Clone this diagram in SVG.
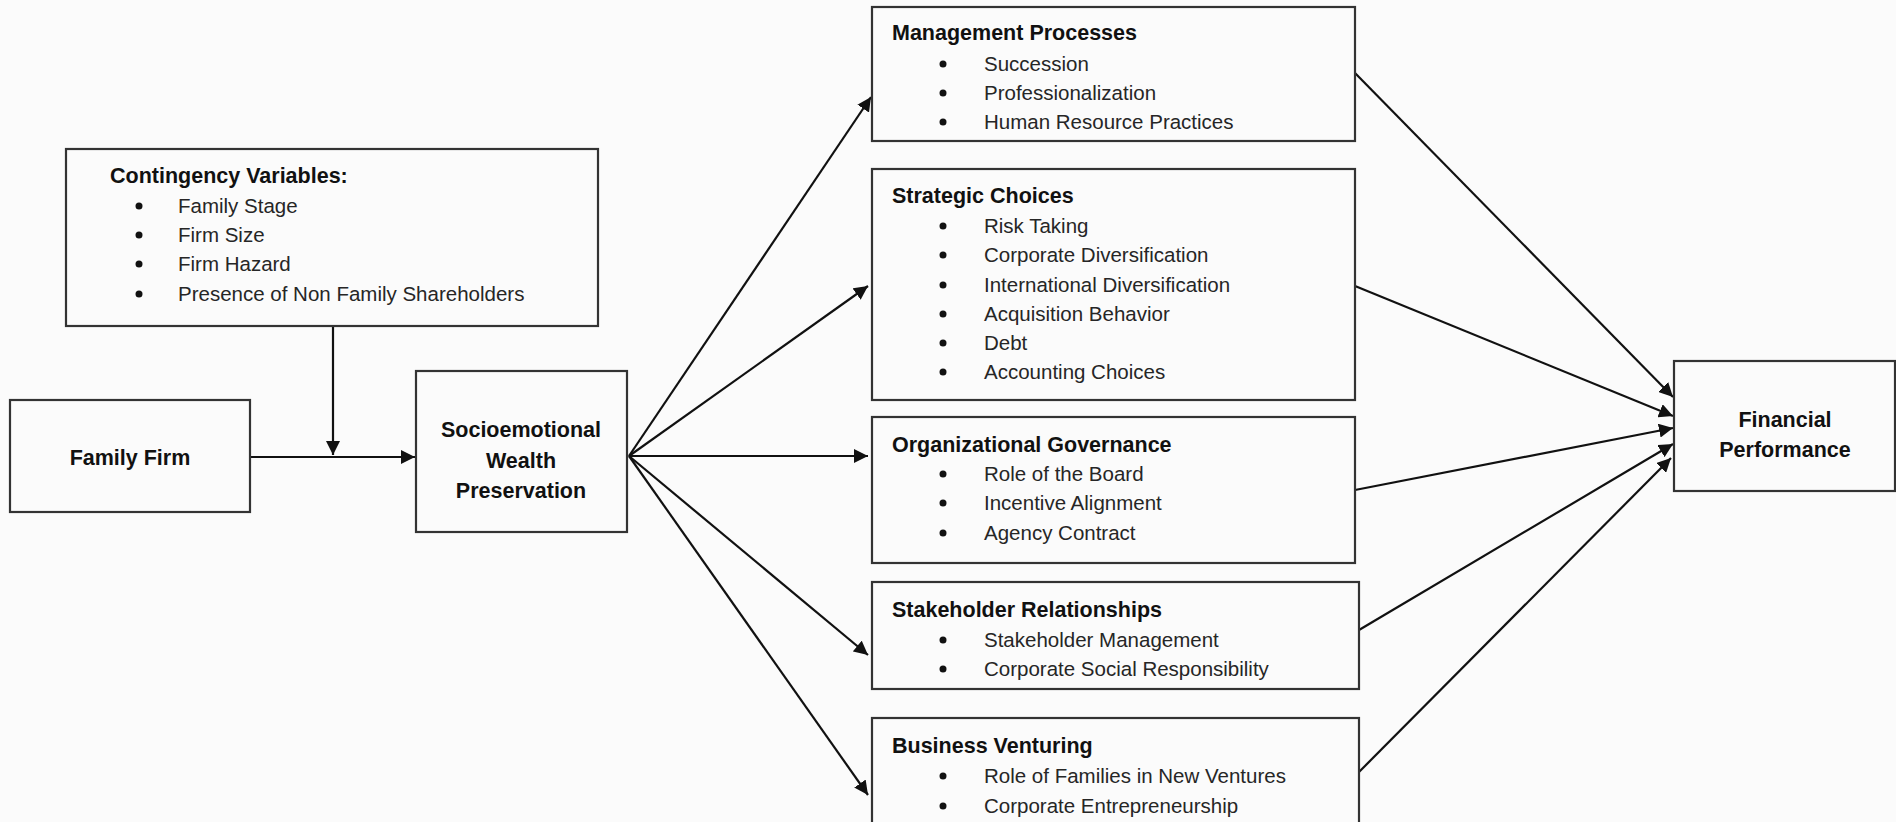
<svg xmlns="http://www.w3.org/2000/svg" width="1896" height="822" viewBox="0 0 1896 822">
<style>
.box{fill:#fbfbfb;stroke:#333;stroke-width:2.2}
.ttl{font-family:"Liberation Sans",Arial,sans-serif;font-size:21.5px;font-weight:bold;fill:#111}
.itm{font-family:"Liberation Sans",Arial,sans-serif;font-size:20.5px;fill:#262626}
.ctr{font-family:"Liberation Sans",Arial,sans-serif;font-size:21.5px;font-weight:bold;fill:#111;text-anchor:middle}
.bul{fill:#111}
.con{stroke:#111;stroke-width:2.2;fill:none;marker-end:url(#ah)}
</style>
<defs>
<marker id="ah" markerUnits="userSpaceOnUse" markerWidth="15" markerHeight="14" refX="14" refY="7" orient="auto">
<path d="M0,0 L14,7 L0,14 z" fill="#111"/>
</marker>
</defs>
<rect x="0" y="0" width="1896" height="822" fill="#fbfbfb"/>

<g id="connectors">
<path class="con" d="M333,326 L333,455"/>
<path class="con" d="M250,457 L415,457"/>
<path class="con" d="M629,456 L871,97"/>
<path class="con" d="M629,456 L868,286"/>
<path class="con" d="M629,456 L868,456"/>
<path class="con" d="M629,456 L868,655"/>
<path class="con" d="M629,456 L868,795"/>
<path class="con" d="M1355,73 L1673,397"/>
<path class="con" d="M1355,286 L1673,416"/>
<path class="con" d="M1355,490 L1673,428"/>
<path class="con" d="M1359,630 L1673,444"/>
<path class="con" d="M1359,772 L1671,458"/>
</g>

<g id="contingency">
<rect class="box" x="66" y="149" width="532" height="177"/>
<text class="ttl" x="110" y="183">Contingency Variables:</text>
<circle class="bul" cx="139" cy="206" r="3.5"/><text class="itm" x="178" y="213">Family Stage</text>
<circle class="bul" cx="139" cy="235" r="3.5"/><text class="itm" x="178" y="242">Firm Size</text>
<circle class="bul" cx="139" cy="264" r="3.5"/><text class="itm" x="178" y="271">Firm Hazard</text>
<circle class="bul" cx="139" cy="294" r="3.5"/><text class="itm" x="178" y="301">Presence of Non Family Shareholders</text>
</g>

<g id="family-firm">
<rect class="box" x="10" y="400" width="240" height="112"/>
<text class="ctr" x="130" y="465">Family Firm</text>
</g>

<g id="sew">
<rect class="box" x="416" y="371" width="211" height="161"/>
<text class="ctr" x="521" y="437">Socioemotional</text>
<text class="ctr" x="521" y="468">Wealth</text>
<text class="ctr" x="521" y="498">Preservation</text>
</g>

<g id="management">
<rect class="box" x="872" y="7" width="483" height="134"/>
<text class="ttl" x="892" y="40">Management Processes</text>
<circle class="bul" cx="943" cy="64" r="3.5"/><text class="itm" x="984" y="71">Succession</text>
<circle class="bul" cx="943" cy="93" r="3.5"/><text class="itm" x="984" y="100">Professionalization</text>
<circle class="bul" cx="943" cy="122" r="3.5"/><text class="itm" x="984" y="129">Human Resource Practices</text>
</g>

<g id="strategic">
<rect class="box" x="872" y="169" width="483" height="231"/>
<text class="ttl" x="892" y="203">Strategic Choices</text>
<circle class="bul" cx="943" cy="226" r="3.5"/><text class="itm" x="984" y="233">Risk Taking</text>
<circle class="bul" cx="943" cy="255" r="3.5"/><text class="itm" x="984" y="262">Corporate Diversification</text>
<circle class="bul" cx="943" cy="285" r="3.5"/><text class="itm" x="984" y="292">International Diversification</text>
<circle class="bul" cx="943" cy="314" r="3.5"/><text class="itm" x="984" y="321">Acquisition Behavior</text>
<circle class="bul" cx="943" cy="343" r="3.5"/><text class="itm" x="984" y="350">Debt</text>
<circle class="bul" cx="943" cy="372" r="3.5"/><text class="itm" x="984" y="379">Accounting Choices</text>
</g>

<g id="governance">
<rect class="box" x="872" y="417" width="483" height="146"/>
<text class="ttl" x="892" y="452">Organizational Governance</text>
<circle class="bul" cx="943" cy="474" r="3.5"/><text class="itm" x="984" y="481">Role of the Board</text>
<circle class="bul" cx="943" cy="503" r="3.5"/><text class="itm" x="984" y="510">Incentive Alignment</text>
<circle class="bul" cx="943" cy="533" r="3.5"/><text class="itm" x="984" y="540">Agency Contract</text>
</g>

<g id="stakeholder">
<rect class="box" x="872" y="582" width="487" height="107"/>
<text class="ttl" x="892" y="617">Stakeholder Relationships</text>
<circle class="bul" cx="943" cy="640" r="3.5"/><text class="itm" x="984" y="647">Stakeholder Management</text>
<circle class="bul" cx="943" cy="669" r="3.5"/><text class="itm" x="984" y="676">Corporate Social Responsibility</text>
</g>

<g id="venturing">
<rect class="box" x="872" y="718" width="487" height="112"/>
<text class="ttl" x="892" y="753">Business Venturing</text>
<circle class="bul" cx="943" cy="776" r="3.5"/><text class="itm" x="984" y="783">Role of Families in New Ventures</text>
<circle class="bul" cx="943" cy="806" r="3.5"/><text class="itm" x="984" y="813">Corporate Entrepreneurship</text>
</g>

<g id="financial">
<rect class="box" x="1674" y="361" width="221" height="130"/>
<text class="ctr" x="1785" y="427">Financial</text>
<text class="ctr" x="1785" y="457">Performance</text>
</g>
</svg>
